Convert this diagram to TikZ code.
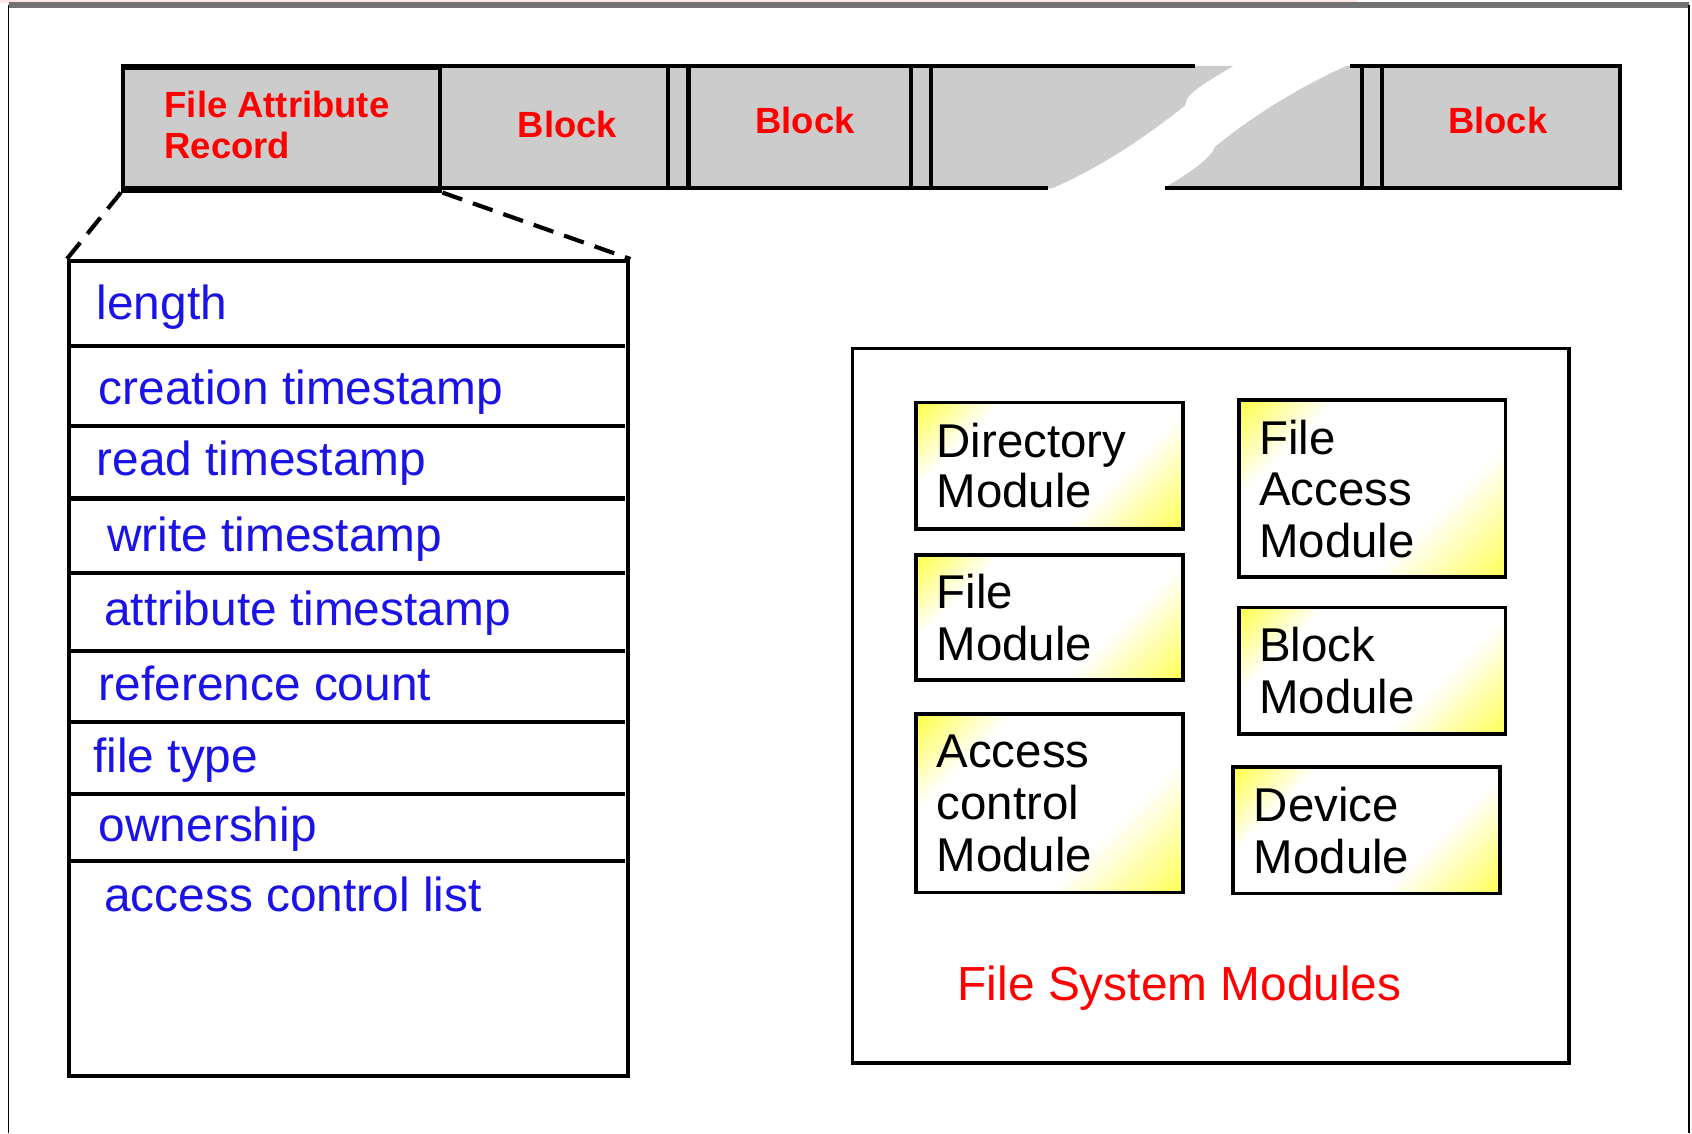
\documentclass[tikz,border=0pt]{standalone}
\usepackage{fontspec}
\setmainfont{Liberation Sans}
\usepackage{xcolor}
\definecolor{fsred}{HTML}{FF0000}
\definecolor{fsblue}{HTML}{1A12E6}
\definecolor{fsgray}{HTML}{CCCCCC}
\definecolor{fsyellow}{HTML}{FFFF1A}
\usepackage{tikz}
\usetikzlibrary{calc}
\pgfdeclarehorizontalshading{modfill}{100bp}{color(0bp)=(fsyellow); color(14bp)=(fsyellow!85!white);
  color(30bp)=(white); color(64bp)=(white); color(90bp)=(fsyellow!90!white); color(100bp)=(fsyellow)}

\begin{document}
\begin{tikzpicture}[
  x=0.01cm,y=-0.01cm,
  line width=0.9pt,
  barline/.style={draw=black,line width=1.1pt},
  celltext/.style={text=fsred,font=\fontsize{9.6}{10.8}\selectfont\bfseries},
  fieldtext/.style={anchor=base west,text=fsblue,inner sep=0pt,font=\fontsize{12.6}{15}\selectfont},
  modbox/.style={draw,line width=1pt,shading=modfill,shading angle=-45,align=left,
    text width=2.09cm,inner xsep=0.19cm,font=\fontsize{12.5}{13.6}\selectfont}
]
\useasboundingbox (0,0) rectangle (1568,1050);
% page frame
\fill[red!10] (0,0) rectangle (1258,3);
\draw[gray!90!black,line width=1.4pt] (8,4.5) -- (1565,4.5);
\draw[line width=0.4pt] (8,4.5) -- (8,1050);
\draw[line width=0.4pt] (1565,4.5) -- (1565,1050);
% block bar, broken in the middle
\fill[fsgray] (112,61) -- (1143,61) .. controls (1120,75) and (1104,84) .. (1100,92)
  -- (1098,98) .. controls (1060,128) and (1020,155) .. (975,174.5) -- (112,174.5) -- cycle;
\fill[fsgray] (1248,61) -- (1501,61) -- (1501,174.5) -- (1078,174.5)
  .. controls (1100,162) and (1117,150) .. (1124,140) -- (1126,136)
  .. controls (1160,108) and (1205,80) .. (1248,61);
\draw[barline] (112,61) -- (1107,61);
\draw[barline] (1251,61) -- (1501,61) -- (1501,174.5) -- (1080,174.5);
\draw[barline] (971,174.5) -- (112,174.5);
\foreach \x in {619,638,844,863,1262,1281}
  \draw[barline] (\x,61) -- (\x,174.5);
\node[draw,line width=1.1pt,minimum width=2.94cm,minimum height=1.135cm,anchor=north west]
  (far) at (112,61) {};
\node[celltext,anchor=west,align=left,inner sep=0pt] (farlabel) at (151,116) {File Attribute\\Record};
\node[celltext] (blk1) at (526,115) {Block};
\node[celltext] (blk2) at (746,112) {Block};
\node[celltext] (blk3) at (1388,112) {Block};
% attribute record
\node[draw,line width=1.1pt,minimum width=5.18cm,minimum height=7.55cm,anchor=north west]
  (attrlist) at (62,240) {};
\draw[line width=1.1pt,dash pattern=on 5.5pt off 3pt] (far.south west) -- (attrlist.north west);
\draw[line width=1.1pt,dash pattern=on 5.5pt off 3pt] (far.south east) -- (attrlist.north east);
\foreach \y in {321,395,462,531,603,669,736,798}
  \draw[line width=1.1pt] (64,\y) -- (579,\y);
\node[fieldtext] (len) at (88,296) {length};
\node[fieldtext] (ctime) at (90,375) {creation timestamp};
\node[fieldtext] (rtime) at (88,441) {read timestamp};
\node[fieldtext] (wtime) at (98,511) {write timestamp};
\node[fieldtext] (atime) at (95,580) {attribute timestamp};
\node[fieldtext] (refcnt) at (90,649) {reference count};
\node[fieldtext] (ftype) at (85,716) {file type};
\node[fieldtext] (owner) at (90,780) {ownership};
\node[fieldtext] (acl) at (95,845) {access control list};
% file system modules
\draw[line width=1pt] (790,323) rectangle (1454,985);
\node[modbox,minimum height=1.17cm] (dirmod) at (972.5,431.5) {Directory\\[-0.3pt]Module};
\node[modbox,minimum height=1.16cm] (filemod) at (972.5,572) {File\\Module};
\node[modbox,minimum height=1.65cm] (acmod) at (972.5,744.5) {Access\\control\\Module};
\node[modbox,minimum height=1.64cm] (famod) at (1271.5,453) {File\\Access\\Module};
\node[modbox,minimum height=1.17cm] (blkmod) at (1271.5,621.5) {Block\\Module};
\node[modbox,minimum height=1.17cm] (devmod) at (1266.5,769.5) {Device\\Module};
\node[anchor=base west,inner sep=0pt,text=fsred,font=\fontsize{12.6}{15}\selectfont]
  (fstitle) at (886,927) {File System Modules};
\end{tikzpicture}
\end{document}
